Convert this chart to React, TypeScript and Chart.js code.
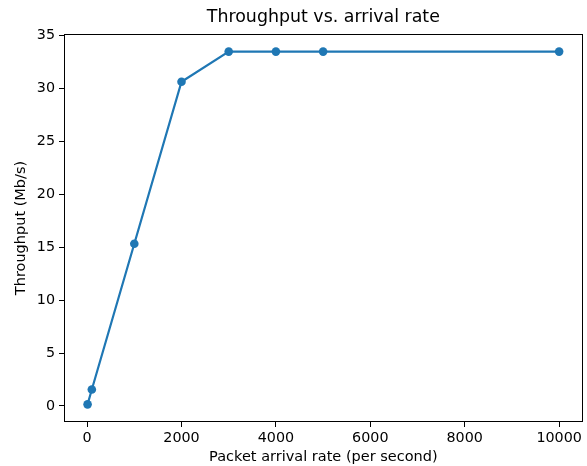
import React, { useEffect, useRef } from "react";
import { Chart, registerables } from "chart.js";

Chart.register(...registerables);

const arrivalRates = [10, 100, 1000, 2000, 3000, 4000, 5000, 10000];
const throughput = [0.15, 1.55, 15.33, 30.65, 33.5, 33.5, 33.5, 33.5];
const xTicks = [0, 2000, 4000, 6000, 8000, 10000];
const yTicks = [0, 5, 10, 15, 20, 25, 30, 35];

const FONT = "'DejaVu Sans', sans-serif";

const framePlugin = {
  id: "frame",
  afterDatasetsDraw(chart: any) {
    const { ctx, chartArea } = chart;
    const l = Math.round(chartArea.left) + 0.5;
    const t = Math.round(chartArea.top) + 0.5;
    const r = Math.round(chartArea.right) - 0.5;
    const b = Math.round(chartArea.bottom) - 0.5;
    ctx.save();
    ctx.strokeStyle = "#000";
    ctx.lineWidth = 1;
    ctx.strokeRect(l, t, r - l, b - t);
    ctx.restore();
  },
};

export default function App() {
  const ref = useRef<HTMLCanvasElement | null>(null);

  useEffect(() => {
    if (!ref.current) return;
    const xMinD = Math.min(...arrivalRates);
    const xMaxD = Math.max(...arrivalRates);
    const yMinD = Math.min(...throughput);
    const yMaxD = Math.max(...throughput);
    const xm = (xMaxD - xMinD) * 0.05;
    const ym = (yMaxD - yMinD) * 0.05;

    const chart = new Chart(ref.current, {
      type: "line",
      data: {
        datasets: [
          {
            data: arrivalRates.map((x, i) => ({ x, y: throughput[i] })),
            borderColor: "#1f77b4",
            backgroundColor: "#1f77b4",
            borderWidth: 2.2,
            pointRadius: 4.3,
            pointBorderWidth: 0,
            pointBackgroundColor: "#1f77b4",
            tension: 0,
          },
        ],
      },
      options: {
        responsive: false,
        animation: false,
        devicePixelRatio: 1,
        layout: { padding: { left: 0, right: 1, top: 0, bottom: 0 } },
        plugins: {
          legend: { display: false },
          tooltip: { enabled: false },
          title: {
            display: true,
            text: "Throughput vs. arrival rate",
            fullSize: false,
            color: "#000",
            font: { family: FONT, size: 17.4, weight: "normal", lineHeight: 1.2 },
            padding: { top: 7.5, bottom: 5.6 },
          },
        },
        scales: {
          x: {
            type: "linear",
            min: xMinD - xm,
            max: xMaxD + xm,
            afterBuildTicks: (s: any) => {
              s.ticks = xTicks.map((v) => ({ value: v }));
            },
            afterFit: (s: any) => {
              s.height = 44;
            },
            grid: {
              display: true,
              drawOnChartArea: false,
              drawTicks: true,
              tickLength: 5,
              color: "#000",
              lineWidth: 1,
            },
            border: { display: false },
            ticks: {
              color: "#000",
              padding: 3,
              maxRotation: 0,
              autoSkip: false,
              font: { family: FONT, size: 14.3 },
              callback: (v: any) => String(v),
            },
            title: {
              display: true,
              text: "Packet arrival rate (per second)",
              color: "#000",
              font: { family: FONT, size: 14.5, lineHeight: 1.2 },
              padding: { top: 0, bottom: 0 },
            },
          },
          y: {
            type: "linear",
            min: yMinD - ym,
            max: yMaxD + ym,
            afterBuildTicks: (s: any) => {
              s.ticks = yTicks.map((v) => ({ value: v }));
            },
            afterFit: (s: any) => {
              s.width = 64;
            },
            grid: {
              display: true,
              drawOnChartArea: false,
              drawTicks: true,
              tickLength: 5,
              color: "#000",
              lineWidth: 1,
            },
            border: { display: false },
            ticks: {
              color: "#000",
              padding: 4,
              autoSkip: false,
              font: { family: FONT, size: 14.3 },
              callback: (v: any) => String(v),
            },
            title: {
              display: true,
              text: "Throughput (Mb/s)",
              color: "#000",
              font: { family: FONT, size: 14.5, lineHeight: 1.2 },
              padding: { top: 13, bottom: 0 },
            },
          },
        },
      },
      plugins: [framePlugin],
    } as any);
    return () => chart.destroy();
  }, []);

  return (
    <div style={{ position: "absolute", left: 0, top: 0, width: 587, height: 466, background: "#fff" }}>
      <canvas ref={ref} width={587} height={466} style={{ display: "block" }} />
    </div>
  );
}
